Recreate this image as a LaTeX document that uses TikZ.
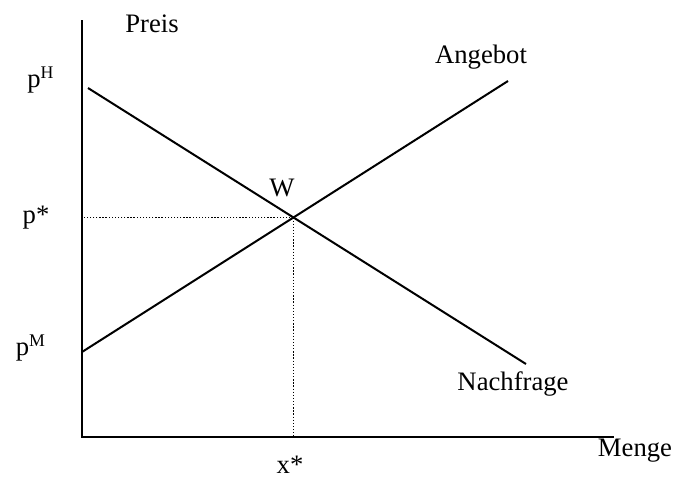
\documentclass[tikz,border=0pt]{standalone}
\usepackage{fontspec}
\setmainfont{Liberation Serif}
\usetikzlibrary{positioning,calc}
\tikzset{
  axis/.style  ={draw=black,line width=1.1pt},
  curve/.style ={draw=black,line width=0.9pt},
  guide/.style ={draw=black,line width=0.6pt,dash pattern=on 0.6pt off 0.8pt},
  lbl/.style   ={font=\fontsize{12}{14}\selectfont,inner sep=0pt},
}
\begin{document}
\begin{tikzpicture}[x=0.45pt, y=-0.45pt]
\useasboundingbox (0,0) rectangle (675,477);

% ===== axes =============================================================
\coordinate (o)  at (82,437);
\coordinate (yt) at (82,20);
\coordinate (xt) at (614,437);
\draw[axis] (yt) -- (o) -- (xt);
\node[lbl] (preis) at (152,24) {Preis};
\node[lbl] (menge) at (635,451) {Menge};

% ===== supply and demand ================================================
\coordinate (s0) at (82,352);
\coordinate (s1) at (508,81);
\coordinate (d0) at (88,88);
\coordinate (d1) at (526,364);
\draw[curve] (s0) -- (s1);
\draw[curve] (d0) -- (d1);
\node[lbl] (ang) at (481,57)  {Angebot};
\node[lbl] (nach) at (513,384) {Nachfrage};

% ===== equilibrium ======================================================
\coordinate (w) at (intersection of s0--s1 and d0--d1);
\draw[guide] (w) -- (w-|o);
\draw[guide] (w) -- (w|-o);
\node[lbl] (wl) at (282,188) {W};

% ===== price and quantity marks =========================================
\node[lbl] (ph) at (41,80)  {p\textsuperscript{H}};
\node[lbl] (ps) at (36,218) {p*};
\node[lbl] (pm) at (31,348) {p\textsuperscript{M}};
\node[lbl] (xs) at (290,465) {x*};
\end{tikzpicture}
\end{document}
